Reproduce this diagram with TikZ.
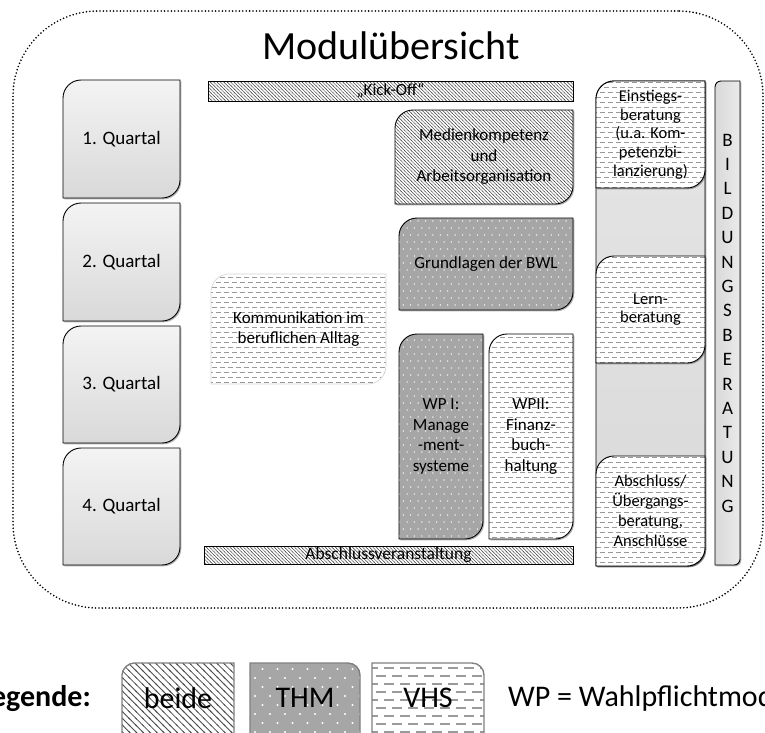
\documentclass[tikz,border=0pt]{standalone}
\usepackage{fontspec}
\setmainfont{Carlito}
\usetikzlibrary{patterns,shadows}

\definecolor{thm}{HTML}{A6A6A6}
\definecolor{hatchc}{HTML}{4D4D4D}
\definecolor{dashc}{HTML}{9A9A9A}
\definecolor{legborder}{HTML}{808080}

% small patterns (diagram)
\pgfdeclarepatternformonly{hatchS}{\pgfqpoint{-0.5pt}{-0.5pt}}{\pgfqpoint{3.9pt}{3.9pt}}{\pgfqpoint{3.4pt}{3.4pt}}{%
  \pgfsetlinewidth{0.45pt}%
  \pgfpathmoveto{\pgfqpoint{-0.5pt}{3.9pt}}%
  \pgfpathlineto{\pgfqpoint{3.9pt}{-0.5pt}}%
  \pgfusepath{stroke}}
\pgfdeclarepatternformonly{dotsS}{\pgfqpoint{-1pt}{-1pt}}{\pgfqpoint{8.4pt}{15pt}}{\pgfqpoint{7.4pt}{14pt}}{%
  \pgfpathcircle{\pgfqpoint{0pt}{0pt}}{0.75pt}%
  \pgfpathcircle{\pgfqpoint{3.7pt}{7pt}}{0.75pt}%
  \pgfusepath{fill}}
\pgfdeclarepatternformonly{dashS}{\pgfqpoint{0pt}{-0.5pt}}{\pgfqpoint{8pt}{10.5pt}}{\pgfqpoint{8pt}{10pt}}{%
  \pgfsetlinewidth{0.6pt}%
  \pgfpathmoveto{\pgfqpoint{0pt}{0pt}}\pgfpathlineto{\pgfqpoint{5pt}{0pt}}%
  \pgfpathmoveto{\pgfqpoint{4pt}{5pt}}\pgfpathlineto{\pgfqpoint{8pt}{5pt}}%
  \pgfpathmoveto{\pgfqpoint{0pt}{5pt}}\pgfpathlineto{\pgfqpoint{1pt}{5pt}}%
  \pgfusepath{stroke}}
% large patterns (legend)
\pgfdeclarepatternformonly{hatchL}{\pgfqpoint{-1pt}{-1pt}}{\pgfqpoint{7.8pt}{7.8pt}}{\pgfqpoint{6.8pt}{6.8pt}}{%
  \pgfsetlinewidth{0.8pt}%
  \pgfpathmoveto{\pgfqpoint{-1pt}{7.8pt}}%
  \pgfpathlineto{\pgfqpoint{7.8pt}{-1pt}}%
  \pgfusepath{stroke}}
\pgfdeclarepatternformonly{dotsL}{\pgfqpoint{-2pt}{-2pt}}{\pgfqpoint{17pt}{20pt}}{\pgfqpoint{15pt}{18pt}}{%
  \pgfpathcircle{\pgfqpoint{0pt}{0pt}}{1.1pt}%
  \pgfpathcircle{\pgfqpoint{7.5pt}{9pt}}{1.1pt}%
  \pgfusepath{fill}}
\pgfdeclarepatternformonly{dashL}{\pgfqpoint{0pt}{-1pt}}{\pgfqpoint{16pt}{17pt}}{\pgfqpoint{16pt}{16pt}}{%
  \pgfsetlinewidth{1.5pt}%
  \pgfpathmoveto{\pgfqpoint{0pt}{0pt}}\pgfpathlineto{\pgfqpoint{10pt}{0pt}}%
  \pgfpathmoveto{\pgfqpoint{8pt}{8pt}}\pgfpathlineto{\pgfqpoint{16pt}{8pt}}%
  \pgfpathmoveto{\pgfqpoint{0pt}{8pt}}\pgfpathlineto{\pgfqpoint{2pt}{8pt}}%
  \pgfusepath{stroke}}

% box with rounded top-left and bottom-right corners
% #1 path style, #2 name, #3 x1, #4 y1 (top), #5 x2, #6 y2 (bottom), #7 radius, #8 node options, #9 text
\newcommand\rbox[9]{%
  \path[#1] (#3,#4+#7) .. controls (#3,#4+0.45*#7) and (#3+0.45*#7,#4) .. (#3+#7,#4)
    -- (#5,#4) -- (#5,#6-#7) .. controls (#5,#6-0.45*#7) and (#5-0.45*#7,#6) .. (#5-#7,#6)
    -- (#3,#6) -- cycle;
  \node[txt,#8] (#2) at ({(#3+#5)/2},{(#4+#6)/2}) {#9};}

\begin{document}
\begin{tikzpicture}[x=1pt,y=-1pt,
  txt/.style={align=center,inner sep=0pt,font=\fontsize{17}{20.5}\selectfont},
  qtxt/.style={font=\fontsize{19}{22}\selectfont},
  rtxt/.style={font=\fontsize{16.5}{18.75}\selectfont},
  atxt/.style={font=\fontsize{16.5}{20}\selectfont},
  btxt/.style={font=\fontsize{19}{24.4}\selectfont},
  box/.style={draw=black,line width=0.9pt},
  shad/.style={drop shadow={shadow xshift=1.3pt,shadow yshift=-1.3pt,opacity=0.3,fill=black}},
  hatchbox/.style={box,shad,preaction={fill=white},pattern=hatchS,pattern color=hatchc},
  thmbox/.style={box,shad,preaction={fill=thm},pattern=dotsS,pattern color=white},
  vhsbox/.style={box,shad,preaction={fill=white},pattern=dashS,pattern color=dashc},
  quartbox/.style={box,shad,top color=gray!9,bottom color=gray!30},
  colbox/.style={box,shad,top color=gray!20,bottom color=gray!30},
  barbox/.style={box,shad,left color=gray!30,right color=gray!16},
  legbox/.style={draw=legborder,line width=1.4pt},
  legtxt/.style={inner sep=0pt,font=\fontsize{30}{36}\selectfont},
]
\useasboundingbox (0,0) rectangle (765,732);

% outer dotted frame
\node[draw=black,line width=1.8pt,dash pattern=on 0pt off 3.4pt,line cap=round,
      rounded corners=85pt,minimum width=750pt,minimum height=597pt,inner sep=0pt]
      (frame) at (388,309.5) {};

\node[font=\fontsize{40}{48}\selectfont,inner sep=0pt] (title) at (391,46) {Modulübersicht};

% quarters
\rbox{quartbox}{q1}{63}{80}{180}{198}{18}{qtxt}{1. Quartal}
\rbox{quartbox}{q2}{63}{203}{180}{321}{18}{qtxt}{2. Quartal}
\rbox{quartbox}{q3}{63}{326}{180}{443}{18}{qtxt}{3. Quartal}
\rbox{quartbox}{q4}{63}{448}{180}{565}{18}{qtxt}{4. Quartal}

% bars
\path[hatchbox] (208,81) rectangle (573,101);
\node[txt,font=\fontsize{17}{18}\selectfont] (kick) at (390.5,91) {„Kick-Off“};
\path[hatchbox] (204,546) rectangle (573,564);
\node[txt,font=\fontsize{17.5}{18}\selectfont] (abv) at (388.5,555) {Abschlussveranstaltung};

% modules
\rbox{hatchbox}{medien}{395}{110}{573}{204}{18}{}{Medienkompetenz\\und\\Arbeitsorganisation}
\rbox{thmbox}{bwl}{399}{218}{573}{310}{18}{}{Grundlagen der BWL}
\rbox{box,draw=gray!35,line width=0.6pt,preaction={fill=white},pattern=dashS,pattern color=dashc}{komm}{211}{274}{386}{384}{18}{}{Kommunikation im\\beruflichen Alltag}
\rbox{thmbox}{wp1}{399}{334}{483}{539}{18}{}{WP I:\\Manage\\-ment-\\systeme}
\rbox{vhsbox}{wp2}{489}{334}{573}{539}{18}{}{WPII:\\Finanz-\\buch-\\haltung}

% counselling column
\rbox{colbox}{col}{596}{81}{705}{566}{18}{}{}
\rbox{vhsbox}{einst}{596}{81}{705}{188}{18}{rtxt}{Einstiegs-\\beratung\\(u.a. Kom-\\petenzbi-\\lanzierung)}
\rbox{vhsbox}{lern}{596}{256}{705}{363}{18}{rtxt}{Lern-\\beratung}
\rbox{vhsbox}{absch}{596}{456}{705}{566}{18}{atxt}{Abschluss/\\Übergangs-\\beratung,\\Anschlüsse}
\rbox{barbox}{bild}{715}{81}{740}{565}{6}{btxt}{B\\I\\L\\D\\U\\N\\G\\S\\B\\E\\R\\A\\T\\U\\N\\G}

% legend
\node[inner sep=0pt,anchor=east,font=\bfseries\fontsize{30}{36}\selectfont] (leg) at (91,699) {Legende:};
\path[legbox,preaction={fill=white},pattern=hatchL,pattern color=hatchc]
  (122,750) -- (122,675) .. controls (122,668.4) and (128.6,663) .. (134,663) -- (234,663) -- (234,750) -- cycle;
\node[legtxt] (lbeide) at (178,698) {beide};
\path[legbox,preaction={fill=thm},pattern=dotsL,pattern color=white]
  (250,750) -- (250,663) -- (348,663) .. controls (354.6,663) and (360,668.4) .. (360,675) -- (360,750) -- cycle;
\node[legtxt] (lthm) at (305,698) {THM};
\path[legbox,preaction={fill=white},pattern=dashL,pattern color=dashc]
  (372,750) -- (372,663) -- (472,663) .. controls (478.6,663) and (484,668.4) .. (484,675) -- (484,750) -- cycle;
\node[legtxt] (lvhs) at (428,698) {VHS};
\node[legtxt,anchor=west] (lwp) at (508,698) {WP = Wahlpflichtmodul};
\end{tikzpicture}
\end{document}
